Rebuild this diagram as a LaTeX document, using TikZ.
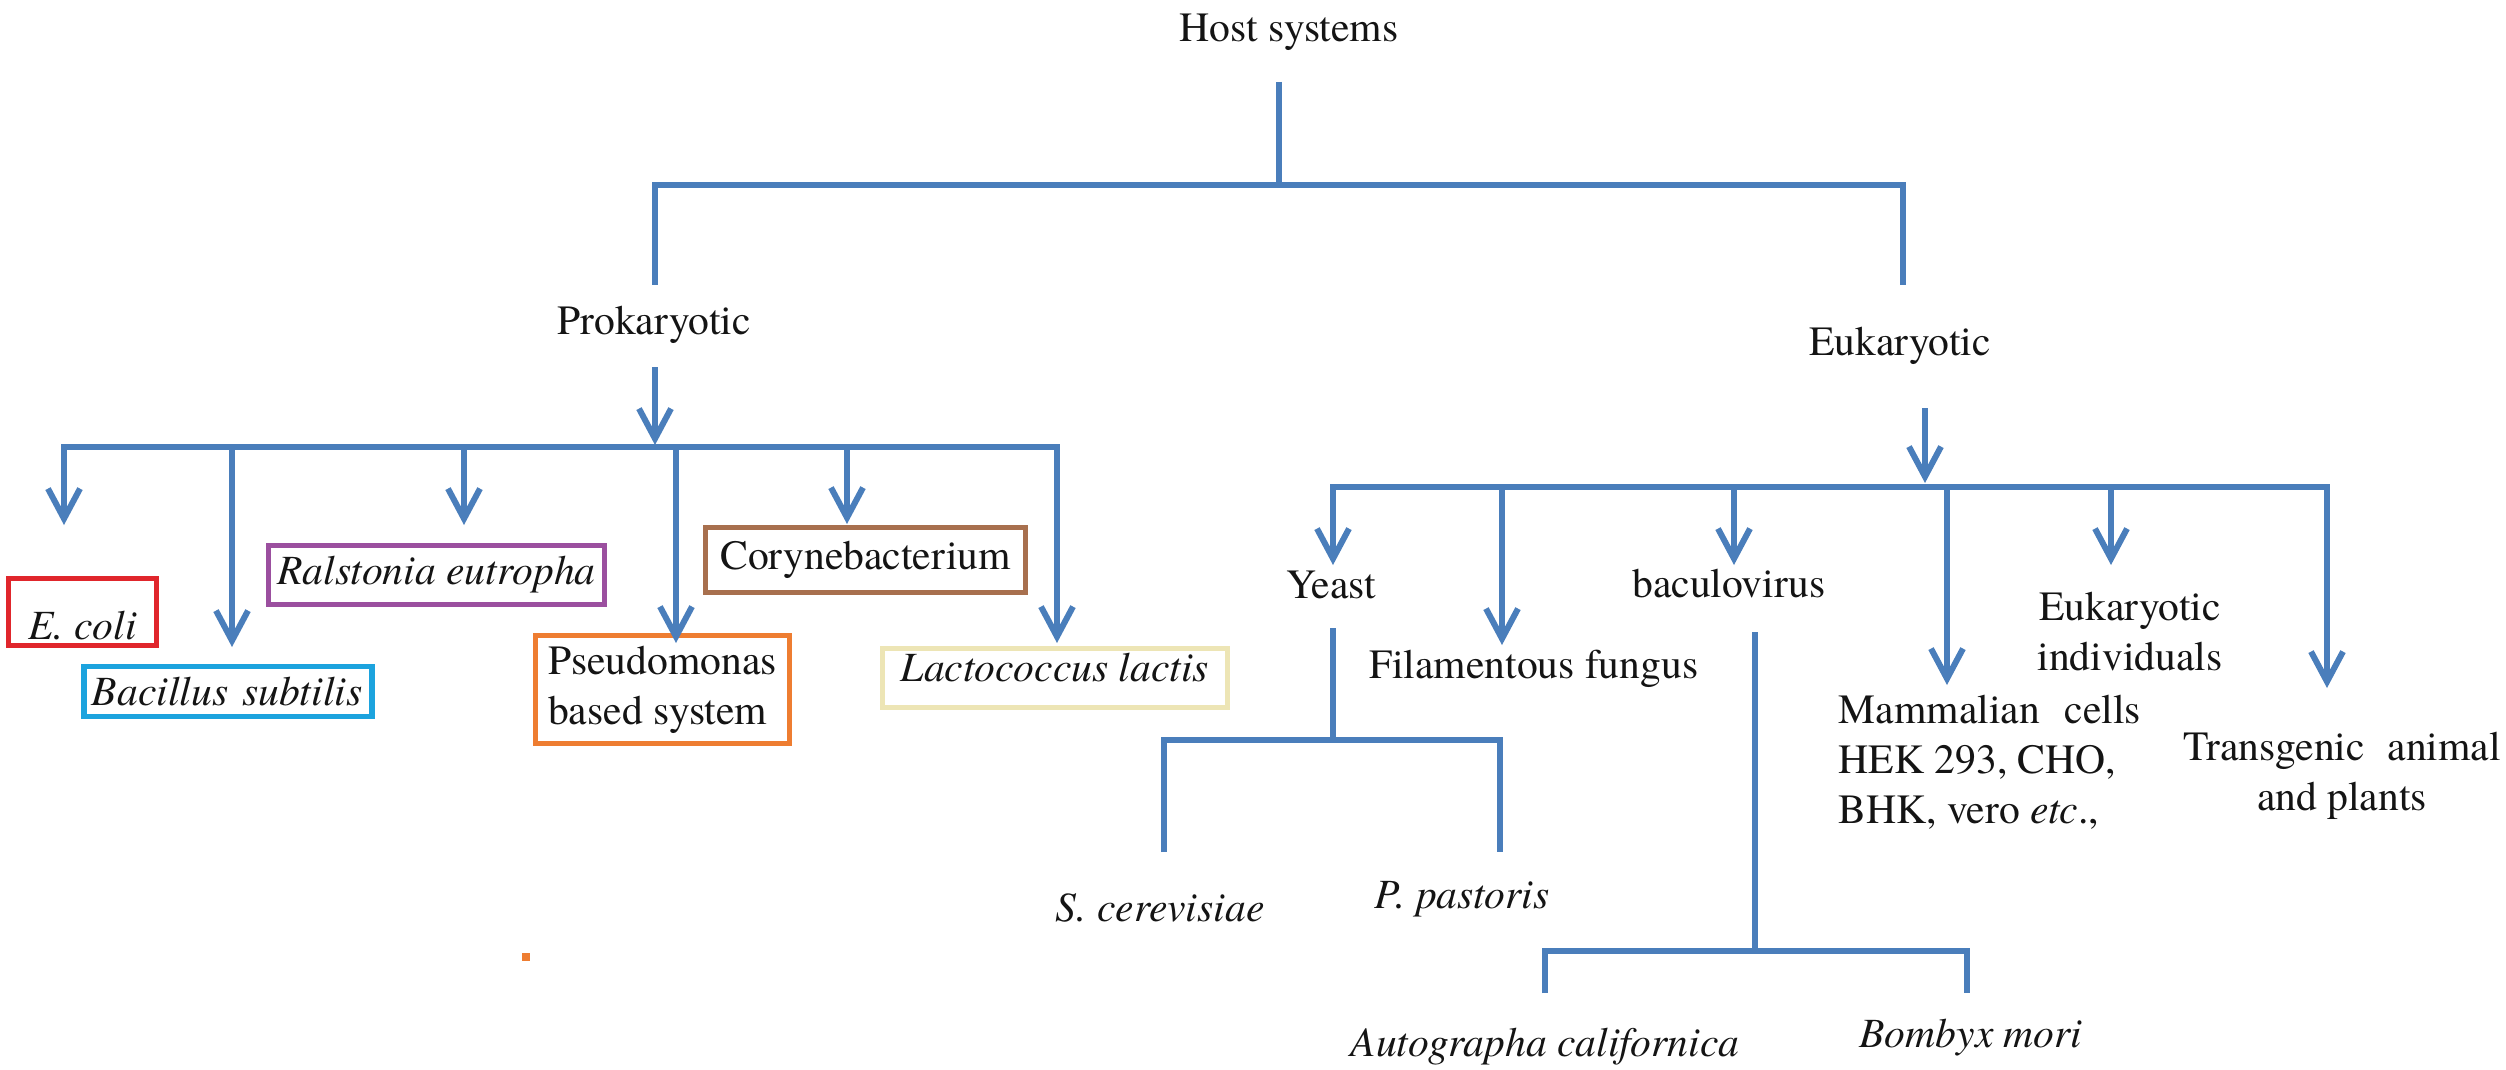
\documentclass[tikz,border=0pt]{standalone}
\usepackage{fontspec}
\setmainfont{texgyretermes-regular.otf}[ItalicFont=texgyretermes-italic.otf, BoldFont=texgyretermes-bold.otf]
\usetikzlibrary{arrows.meta}
\definecolor{lineblue}{HTML}{4A7EBB}
\definecolor{txt}{HTML}{141414}
\definecolor{cred}{HTML}{E0262C}
\definecolor{ccyan}{HTML}{1CA3DE}
\definecolor{cpurple}{HTML}{9B4F9F}
\definecolor{cbrown}{HTML}{A8704E}
\definecolor{corange}{HTML}{EE7D31}
\definecolor{cpale}{HTML}{EDE5B5}
\begin{document}
\begin{tikzpicture}[x=0.25pt,y=-0.25pt,
  every node/.style={font=\rmfamily\fontsize{10.4pt}{12.5pt}\selectfont, text=txt, inner sep=0pt},
  lbl/.style={anchor=base},
  conn/.style={draw=lineblue, line width=1.5pt},
  bar/.style={conn, line cap=rect},
  arr/.style={conn, -{Straight Barb[length=7.5pt,width=8pt]}},
  hbox/.style={draw=#1, line width=1.3pt, inner xsep=2pt, inner ysep=1pt},
]
\fill[white] (0,0) rectangle (2506,1070);
\useasboundingbox (0,0) rectangle (2506,1070);

% ---- top level
\node[lbl] (host) at (1289,42) {Host systems};
\node[lbl] (prok) at (654,335) {Prokaryotic};
\node[lbl] (euk) at (1900,355) {Eukaryotic};

\coordinate (h0) at (1279,82);
\coordinate (hj) at (1279,185);
\coordinate (hl) at (655,185);
\coordinate (hr) at (1903,185);
\coordinate (pl) at (655,285);
\coordinate (er) at (1903,285);
\draw[conn] (h0) -- (hj);
\draw[conn] (pl) -- (hl) -- (hr) -- (er);

% ---- prokaryotic branch
\node[hbox=cred, minimum width=36.95pt, minimum height=16.7pt, text height=13.6pt, text depth=0pt] (ecoli) at (82.5,612) {\itshape E. coli};
\node[hbox=ccyan, minimum width=71.95pt, minimum height=12.45pt, text width=68pt, align=left] (bsub) at (228,691.5) {\itshape Bacillus subtilis};
\node[hbox=cpurple, minimum width=83.95pt, minimum height=14.7pt] (ralst) at (436.5,575) {\itshape Ralstonia eutropha};
\node[hbox=cbrown, minimum width=79.95pt, minimum height=16.2pt] (coryne) at (865.5,560) {Corynebacterium};
\node[hbox=corange, minimum width=63.45pt, minimum height=26.95pt, align=left] (pseudo) at (662.5,689.5) {Pseudomonas\\based system};
\node[hbox=cpale, minimum width=86.2pt, minimum height=14.2pt, text depth=5.5pt] (lacto) at (1055,678) {\itshape Lactococcus lactis};

\coordinate (p0) at (655,367);
\coordinate (pt) at (655,445);
\draw[arr] (p0) -- (pt);
\coordinate (b1) at (64,447);
\coordinate (b2) at (232,447);
\coordinate (b3) at (464,447);
\coordinate (b4) at (676,447);
\coordinate (b5) at (847,447);
\coordinate (b6) at (1057,447);
\draw[bar] (b1) -- (b6);
\coordinate (t1) at (64,525);
\coordinate (t2) at (232,647);
\coordinate (t3) at (464,525);
\coordinate (t4) at (676,643);
\coordinate (t5) at (847,524);
\coordinate (t6) at (1057,643);
\draw[arr] (b1) -- (t1);
\draw[arr] (b2) -- (t2);
\draw[arr] (b3) -- (t3);
\draw[arr] (b4) -- (t4);
\draw[arr] (b5) -- (t5);
\draw[arr] (b6) -- (t6);

% ---- eukaryotic branch
\node[lbl] (yeast) at (1331,598) {Yeast};
\node[lbl] (fila) at (1534,678) {Filamentous fungus};
\node[lbl] (baculo) at (1729,597) {baculovirus};
\node[align=left, anchor=west] (mamm) at (1838,762) {Mammalian\hspace{0.6em}cells\\HEK 293, CHO,\\BHK, vero \textit{etc}.,};
\node[align=center] (eind) at (2130,632) {Eukaryotic\\individuals};
\node[align=center] (trans) at (2342,776) {Transgenic\hspace{0.55em}animal\\and plants};

\coordinate (e0) at (1925,408);
\coordinate (et) at (1925,483);
\draw[arr] (e0) -- (et);
\coordinate (c1) at (1333,487);
\coordinate (c2) at (1502,487);
\coordinate (c3) at (1734,487);
\coordinate (c4) at (1947,487);
\coordinate (c5) at (2111,487);
\coordinate (c6) at (2327,487);
\draw[bar] (c1) -- (c6);
\coordinate (u1) at (1333,565);
\coordinate (u2) at (1502,645);
\coordinate (u3) at (1734,565);
\coordinate (u4) at (1947,685);
\coordinate (u5) at (2111,565);
\coordinate (u6) at (2327,688);
\draw[arr] (c1) -- (u1);
\draw[arr] (c2) -- (u2);
\draw[arr] (c3) -- (u3);
\draw[arr] (c4) -- (u4);
\draw[arr] (c5) -- (u5);
\draw[arr] (c6) -- (u6);

% ---- yeast subtree
\node[lbl] (scer) at (1160,921) {\itshape S. cerevisiae};
\node[lbl] (ppas) at (1462,908) {\itshape P. pastoris};
\coordinate (y0) at (1333,628);
\coordinate (yj) at (1333,740);
\coordinate (yl) at (1164,740);
\coordinate (yr) at (1500,740);
\coordinate (yl2) at (1164,852);
\coordinate (yr2) at (1500,852);
\draw[conn] (y0) -- (yj);
\draw[conn] (yl2) -- (yl) -- (yr) -- (yr2);

% ---- baculovirus subtree
\node[lbl] (autog) at (1545,1056) {\itshape Autographa californica};
\node[lbl] (bomb) at (1971,1047) {\itshape Bombyx mori};
\coordinate (v0) at (1755,632);
\coordinate (vj) at (1755,951);
\coordinate (vl) at (1545,951);
\coordinate (vr) at (1967,951);
\coordinate (vl2) at (1545,993);
\coordinate (vr2) at (1967,993);
\draw[conn] (v0) -- (vj);
\draw[conn] (vl2) -- (vl) -- (vr) -- (vr2);

% ---- stray orange mark
\fill[corange] (522,953) rectangle (530,961);
\end{tikzpicture}
\end{document}
